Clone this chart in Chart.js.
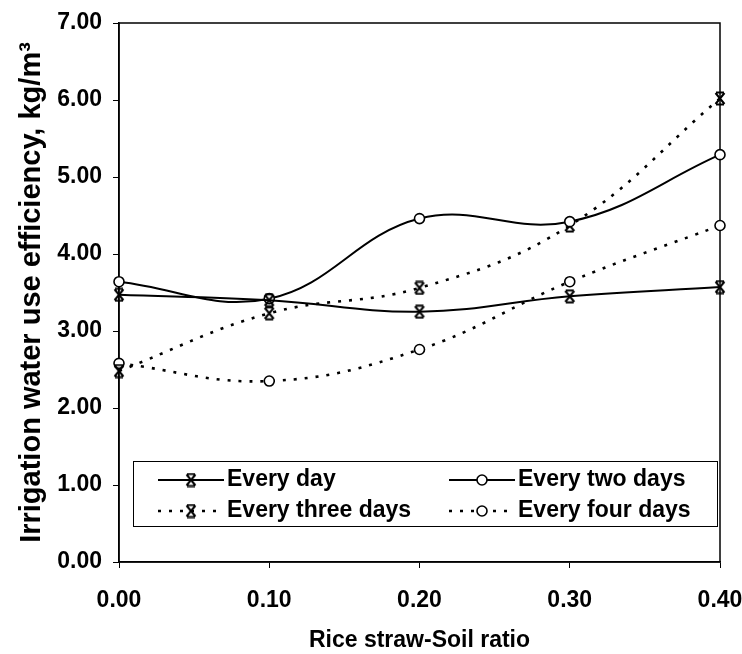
<!DOCTYPE html>
<html>
<head>
<meta charset="utf-8">
<script src="https://cdn.jsdelivr.net/npm/chart.js@4.4.1/dist/chart.umd.min.js"></script>
<style>
  html, body { margin: 0; padding: 0; background: #fff; }
  #wrap { width: 742px; height: 654px; }
</style>
</head>
<body>
<div id="wrap"><canvas id="chart" width="742" height="654"></canvas></div>
<script>
// straw-soil ratios on the x axis
var ratios = [0.00, 0.10, 0.20, 0.30, 0.40]

// irrigation water use efficiency, kg/m3
var everyDay = [3.47, 3.40, 3.25, 3.45, 3.57]
var everyTwoDays = [3.64, 3.42, 4.46, 4.42, 5.29]
var everyThreeDays = [2.48, 3.23, 3.56, 4.37, 6.02]
var everyFourDays = [2.58, 2.35, 2.76, 3.64, 4.37]

var seriesNames = ['Every day', 'Every two days', 'Every three days', 'Every four days']

var FONT = "'Liberation Sans', Arial, Helvetica, sans-serif"

function toPoints(values) {
    return values.map(function (v, i) { return { x: ratios[i], y: v } })
}

// x marker with small bars on top and bottom, like the old excel one
function makeCrossMarker() {
    var c = document.createElement('canvas')
    c.width = 14
    c.height = 15
    var g = c.getContext('2d')
    g.strokeStyle = '#000'
    g.lineWidth = 2
    g.beginPath()
    g.moveTo(2.5, 2); g.lineTo(11.5, 13)
    g.moveTo(11.5, 2); g.lineTo(2.5, 13)
    g.moveTo(3, 1.5); g.lineTo(11, 1.5)
    g.moveTo(3, 13.5); g.lineTo(11, 13.5)
    g.stroke()
    return c
}
var crossMarker = makeCrossMarker()

var dotted = [3, 8]

function lineSet(label, values, dash, marker) {
    return {
        label: label,
        data: toPoints(values),
        borderColor: '#000',
        borderWidth: dash ? 2.6 : 2,
        borderDash: dash || [],
        tension: 0.4,
        fill: false,
        clip: false,
        pointStyle: marker === 'x' ? crossMarker : 'circle',
        pointRadius: 5,
        pointBorderWidth: 1.6,
        pointBorderColor: '#000',
        pointBackgroundColor: '#fff',
        pointHoverRadius: 5
    }
}

// frame round the plot area
var framePlugin = {
    id: 'frame',
    beforeDatasetsDraw: function (chart) {
        var a = chart.chartArea
        var ctx = chart.ctx
        ctx.save()
        ctx.strokeStyle = '#000'
        ctx.lineWidth = 1.5
        ctx.strokeRect(a.left, a.top, a.right - a.left, a.bottom - a.top)
        ctx.restore()
    }
}

// boxed two column legend inside the plot
var legendBox = {
    id: 'legendBox',
    afterDraw: function (chart) {
        var ctx = chart.ctx
        var a = chart.chartArea
        var box = { left: 133, top: 461, right: a.right - 3, bottom: 526 }
        ctx.save()
        ctx.fillStyle = '#fff'
        ctx.fillRect(box.left, box.top, box.right - box.left, box.bottom - box.top)
        ctx.strokeStyle = '#000'
        ctx.lineWidth = 1
        ctx.strokeRect(box.left + 0.5, box.top + 0.5, box.right - box.left, box.bottom - box.top)

        var cols = [158, 449]
        var rows = [480, 511]
        var sampleW = 66
        chart.data.datasets.forEach(function (ds, i) {
            var x0 = cols[i % 2]
            var y = rows[Math.floor(i / 2)]
            ctx.strokeStyle = '#000'
            ctx.lineWidth = ds.borderWidth
            ctx.setLineDash(ds.borderDash)
            ctx.beginPath()
            ctx.moveTo(x0, y)
            ctx.lineTo(x0 + sampleW, y)
            ctx.stroke()
            ctx.setLineDash([])
            ctx.fillStyle = '#fff'
            ctx.lineWidth = ds.pointBorderWidth
            Chart.helpers.drawPoint(ctx, {
                pointStyle: ds.pointStyle,
                radius: ds.pointRadius,
                borderWidth: ds.pointBorderWidth,
                rotation: 0
            }, x0 + sampleW / 2, y)
            ctx.fillStyle = '#000'
            ctx.font = 'bold 23px ' + FONT
            ctx.textBaseline = 'middle'
            ctx.textAlign = 'left'
            ctx.fillText(ds.label, x0 + sampleW + 3, y)
        })
        ctx.restore()
    }
}

var chart = new Chart(document.getElementById('chart').getContext('2d'), {
    type: 'line',
    data: {
        datasets: [
            lineSet(seriesNames[0], everyDay, null, 'x'),
            lineSet(seriesNames[1], everyTwoDays, null, 'o'),
            lineSet(seriesNames[2], everyThreeDays, dotted, 'x'),
            lineSet(seriesNames[3], everyFourDays, dotted, 'o')
        ]
    },
    options: {
        responsive: false,
        animation: false,
        layout: { padding: { top: 23, right: 22, left: 0, bottom: 0 } },
        plugins: {
            legend: { display: false },
            tooltip: { enabled: false }
        },
        scales: {
            x: {
                type: 'linear',
                min: 0,
                max: 0.4,
                afterFit: function (s) {
                    s.height = 92
                    s.paddingLeft = 0
                    s.paddingRight = 0
                },
                ticks: {
                    stepSize: 0.1,
                    maxRotation: 0,
                    padding: 19,
                    color: '#000',
                    font: { family: FONT, size: 23, weight: 'bold' },
                    callback: function (v) { return Number(v).toFixed(2) }
                },
                grid: { drawOnChartArea: false, drawTicks: true, tickLength: 6, color: '#000' },
                border: { display: true, color: '#000', width: 1.5 },
                title: {
                    display: true,
                    text: 'Rice straw-Soil ratio',
                    color: '#000',
                    font: { family: FONT, size: 23, weight: 'bold' },
                    padding: { top: 0, bottom: 0 }
                }
            },
            y: {
                min: 0,
                max: 7,
                afterFit: function (s) {
                    s.width = 119
                    s.paddingTop = 0
                    s.paddingBottom = 0
                },
                ticks: {
                    stepSize: 1,
                    padding: 11,
                    color: '#000',
                    font: { family: FONT, size: 23, weight: 'bold' },
                    callback: function (v) { return Number(v).toFixed(2) }
                },
                grid: { drawOnChartArea: false, drawTicks: true, tickLength: 6, color: '#000' },
                border: { display: true, color: '#000', width: 1.5 },
                title: {
                    display: true,
                    text: 'Irrigation water use efficiency, kg/m\u00b3',
                    color: '#000',
                    font: { family: FONT, size: 29, weight: 'bold' },
                    padding: { top: 15, bottom: 0 }
                }
            }
        }
    },
    plugins: [framePlugin, legendBox]
})
</script>
</body>
</html>
